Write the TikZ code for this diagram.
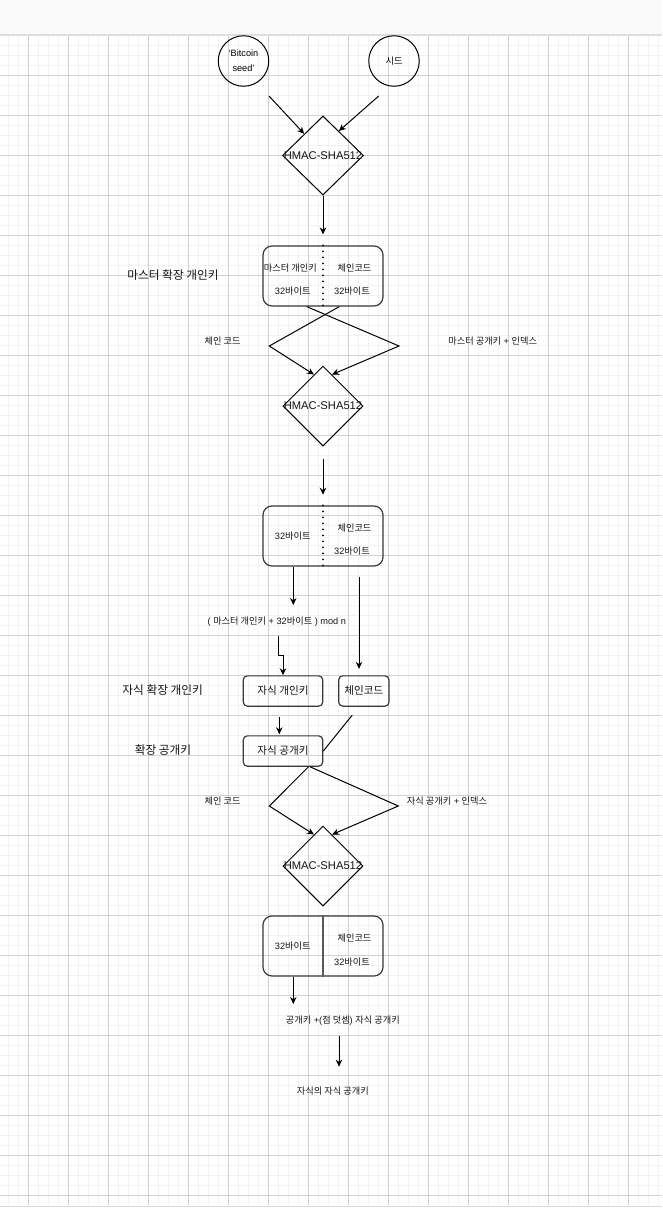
\documentclass[tikz,border=0pt]{standalone}
\usepackage{fontspec}
\setmainfont{Liberation Sans}
\newfontfamily\kr{Noto Sans CJK KR}
\usetikzlibrary{shapes.geometric,arrows.meta}
\definecolor{gmin}{HTML}{F2F2F2}
\definecolor{gmaj}{HTML}{D0D0D0}
\definecolor{edge}{HTML}{3A3A3A}
\definecolor{topbar}{HTML}{F9F9F9}
\tikzset{
  arr/.style={-{Stealth[length=7pt,width=6.5pt]}, line width=1pt, draw=black},
  ln/.style={line width=1pt, draw=black},
  rbox/.style={draw=edge, line width=1.2pt, rounded corners=9pt, minimum width=120pt, minimum height=60pt, inner sep=0pt},
  sbox/.style={draw=edge, line width=1.2pt, rounded corners=4pt, inner sep=0pt, minimum height=30.3pt},
  dia/.style={diamond, draw=black, line width=1pt, minimum width=80pt, minimum height=80pt, inner sep=0pt},
  circ/.style={circle, draw=black, line width=1pt, minimum size=50.5pt, inner sep=0pt},
  sm/.style={font=\fontsize{9.2}{10.5}\selectfont, inner sep=0pt, text=black!92},
  md/.style={font=\fontsize{10.6}{12}\selectfont, inner sep=0pt, text=black!92},
  lg/.style={font=\fontsize{11.7}{13}\selectfont, inner sep=0pt, text=black!92},
  hm/.style={font=\fontsize{11.2}{13}\selectfont, inner sep=0pt, text=black!92},
  gminor/.style={draw=gmin, line width=1pt},
  gmajor/.style={draw=gmaj, line width=0.9pt},
  dotdiv/.style={draw=black, line width=2pt, line cap=round, dash pattern=on 0pt off 6pt},
}
\begin{document}
\begin{tikzpicture}[x=1pt,y=-1pt]
\useasboundingbox (0,0) rectangle (662,1208);
% background
\fill[white] (0,0) rectangle (662,1208);
\fill[topbar] (0,0) rectangle (662,34);
\draw[draw=gmaj!70, line width=1.5pt] (0,35) -- (662,35);
\foreach \x in {8,18,...,658} \draw[gminor] (\x,36) -- (\x,1205);
\foreach \y in {45,55,...,1195} \draw[gminor] (0,\y) -- (662,\y);
\foreach \x in {28,68,...,628} \draw[gmajor] (\x,36) -- (\x,1205);
\foreach \y in {75,115,...,1195} \draw[gmajor] (0,\y) -- (662,\y);
\draw[draw=gmaj!80, line width=0.8pt] (0,1206.5) -- (662,1206.5);

% top inputs
\node[circ, align=center, font=\fontsize{9.2}{15}\selectfont] (seed1) at (243.5,61) {`Bitcoin\\seed'};
\node[circ, font=\fontsize{9.2}{11}\selectfont] (seed2) at (394,61) {\kr 시드};
\coordinate (s1) at (269,96);
\coordinate (s2) at (378.7,96);

\node[dia, minimum width=81pt, minimum height=79pt] (d1) at (323,155.5) {};
\node[hm] (d1t) at (d1) {HMAC-SHA512};
\draw[arr] (s1) -- (d1.131);
\draw[arr] (s2) -- (d1.57);

% master extended private key
\node[rbox] (box1) at (323,276) {};
\draw[dotdiv] (box1.north) -- (box1.south);
\node[sm] (b1a) at (290.3,268) {\kr 마스터 개인키};
\node[sm] (b1b) at (354.5,268) {\kr 체인코드};
\node[sm] (b1c) at (292.7,291) {32{\kr 바이트}};
\node[sm] (b1d) at (352,291) {32{\kr 바이트}};
\node[lg] (lab1) at (173,275) {\kr 마스터 확장 개인키};
\draw[arr, shorten >=11pt] (d1.south) -- (box1.north);

% second HMAC
\node[dia] (d2) at (323,406) {};
\node[hm] (d2t) at (d2) {HMAC-SHA512};
\coordinate (cl1) at (269.3,346);
\coordinate (cr1) at (399,346);
\draw[arr] ([xshift=16.3pt]box1.south) -- (cl1) -- (d2.106);
\draw[arr] ([xshift=-16.3pt]box1.south) -- (cr1) -- (d2.74);
\node[sm] (lab2) at (222.7,341) {\kr 체인 코드};
\node[sm] (lab3) at (492.7,341) {{\kr 마스터 공개키} + {\kr 인덱스}};

% result box 2
\node[rbox] (box2) at (323,536) {};
\draw[dotdiv] (box2.north) -- (box2.south);
\node[sm] (b2a) at (292.7,536) {32{\kr 바이트}};
\node[sm] (b2b) at (354.5,528.3) {\kr 체인코드};
\node[sm] (b2c) at (352,551) {32{\kr 바이트}};
\draw[arr, shorten <=12pt, shorten >=10.7pt] (d2.south) -- (box2.north);

\coordinate (m0) at (293.3,605);
\draw[arr] ([xshift=-29.7pt]box2.south) -- (m0);
\node[sm] (modn) at (276.8,621.7) {( {\kr 마스터 개인키} + 32{\kr 바이트} ) mod n};

% child keys
\node[sbox, minimum width=79.4pt] (cpriv) at (283,691) {};
\node[md] (cprivt) at (cpriv) {\kr 자식 개인키};
\node[sbox, minimum width=50.3pt] (cc) at (363.85,691) {};
\node[md] (cct) at (cc) {\kr 체인코드};
\node[lg] (lab4) at (162.7,690) {\kr 자식 확장 개인키};
\coordinate (e0) at (278.3,636);
\draw[arr] (e0) -- (278.3,655) -| (cpriv.north);
\draw[arr, shorten <=10pt, shorten >=6.4pt] ([xshift=36pt]box2.south) -- ([xshift=-4.85pt]cc.north);

\node[sbox, minimum width=79.4pt] (cpub) at (283,751) {};
\node[md] (cpubt) at (cpub) {\kr 자식 공개키};
\node[lg] (lab5) at (163,750.3) {\kr 확장 공개키};
\draw[arr, shorten <=10.7pt, shorten >=1pt] ([xshift=-3.7pt]cpriv.south) -- ([xshift=-3.7pt]cpub.north);
\draw[ln, shorten <=10.7pt] ([xshift=-4.85pt]cc.south) -- (cpub.east);

% third HMAC
\node[dia] (d3) at (323,866) {};
\node[hm] (d3t) at (d3) {HMAC-SHA512};
\coordinate (cl2) at (269.3,806);
\coordinate (cr2) at (398.3,806);
\draw[arr] ([xshift=25.5pt]cpub.south) -- (cl2) -- (d3.106);
\draw[arr] ([xshift=27pt]cpub.south) -- (cr2) -- (d3.74);
\node[sm] (lab6) at (222.7,801) {\kr 체인 코드};
\node[sm] (lab7) at (447,801) {{\kr 자식 공개키} + {\kr 인덱스}};

% result box 3
\node[rbox] (box3) at (323,946) {};
\draw[draw=black!65, line width=1.5pt] (box3.north) -- (box3.south);
\node[sm] (b3a) at (292.7,946) {32{\kr 바이트}};
\node[sm] (b3b) at (354.5,938.3) {\kr 체인코드};
\node[sm] (b3c) at (352,961.7) {32{\kr 바이트}};

\coordinate (m1) at (293.3,1004);
\draw[arr] ([xshift=-29.7pt]box3.south) -- (m1);
\node[sm] (pk) at (342.8,1021) {{\kr 공개키} +({\kr 점 덧셈}) {\kr 자식 공개키}};
\node[sm] (gk) at (332.8,1091) {\kr 자식의 자식 공개키};
\draw[arr, shorten <=10pt, shorten >=20pt] ([xshift=-3.8pt]pk.south) -- ([xshift=6.2pt]gk.north);
\end{tikzpicture}
\end{document}
